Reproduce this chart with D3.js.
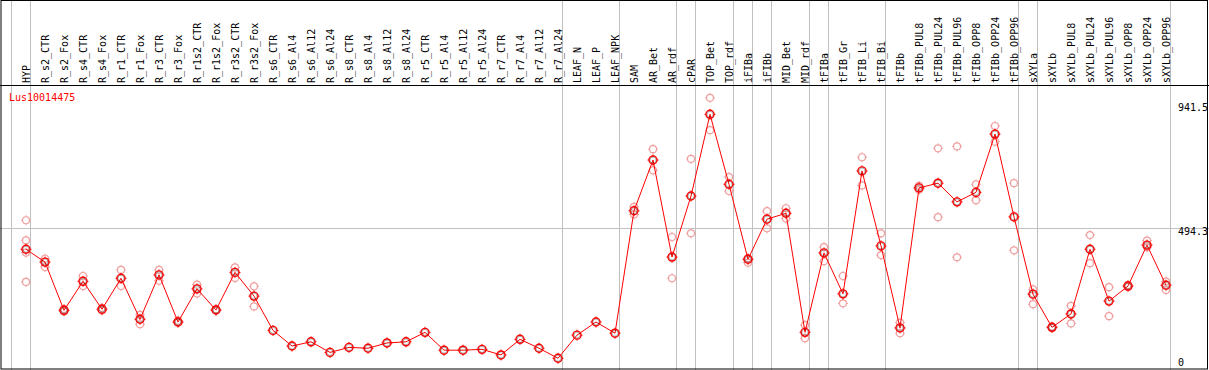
<!DOCTYPE html>
<html>
<head>
<meta charset="utf-8">
<script src="https://cdn.jsdelivr.net/npm/d3@7"></script>
<style>
  body { margin: 0; background: #fff; }
  text { font-family: "DejaVu Sans Mono", monospace; font-size: 10px; }
</style>
</head>
<body>
<div id="chart"></div>
<script>
var w = 1209, h = 370;

var gene = "Lus10014475";

var samples = ["HYP", "R_s2_CTR", "R_s2_Fox", "R_s4_CTR", "R_s4_Fox", "R_r1_CTR", "R_r1_Fox",
  "R_r3_CTR", "R_r3_Fox", "R_r1s2_CTR", "R_r1s2_Fox", "R_r3s2_CTR", "R_r3s2_Fox",
  "R_s6_CTR", "R_s6_Al4", "R_s6_Al12", "R_s6_Al24", "R_s8_CTR", "R_s8_Al4", "R_s8_Al12", "R_s8_Al24",
  "R_r5_CTR", "R_r5_Al4", "R_r5_Al12", "R_r5_Al24", "R_r7_CTR", "R_r7_Al4", "R_r7_Al12", "R_r7_Al24",
  "LEAF_N", "LEAF_P", "LEAF_NPK", "SAM", "AR_Bet", "AR_rdf", "cPAR", "TOP_Bet", "TOP_rdf",
  "iFIBa", "iFIBb", "MID_Bet", "MID_rdf", "tFIBa", "tFIB_Gr", "tFIB_Li", "tFIB_Bi",
  "tFIBb", "tFIBb_PUL8", "tFIBb_PUL24", "tFIBb_PUL96", "tFIBb_OPP8", "tFIBb_OPP24", "tFIBb_OPP96",
  "sXYLa", "sXYLb", "sXYLb_PUL8", "sXYLb_PUL24", "sXYLb_PUL96", "sXYLb_OPP8", "sXYLb_OPP24", "sXYLb_OPP96"];

// mean expression per sample
var means = [418, 372, 199, 303, 203, 314, 167, 326, 157, 276, 200, 335, 250,
  127, 71, 86, 48, 66, 63, 82, 86,
  120, 56, 56, 59, 39, 95, 63, 27,
  110, 157, 117, 556, 738, 390, 609, 902, 651,
  382, 526, 547, 120, 405, 258, 699, 430,
  136, 638, 655, 588, 622, 831, 534,
  257, 138, 186, 418, 232, 286, 433, 289];

// replicates per sample
var reps = [[522, 450, 406, 301], [384, 354], [204, 195], [322, 286], [208, 198], [344, 286], [183, 149],
  [344, 305], [162, 155], [291, 259], [203, 198], [353, 315], [285, 213],
  [], [], [], [], [], [], [], [],
  [], [], [], [], [], [], [], [],
  [], [], [], [570, 543], [777, 701], [462, 314], [742, 475], [961, 845], [677, 627],
  [386, 370], [555, 493], [565, 528], [146, 99], [426, 375], [322, 224], [748, 647], [475, 397],
  [155, 117], [631, 645], [780, 533], [787, 389], [651, 594], [860, 804], [655, 414],
  [274, 221], [140, 136], [215, 152], [469, 368], [282, 178], [290, 283], [449, 425], [302, 272]];

// group boundaries: first sample of each block
var groupStarts = ["HYP", "R_s2_CTR", "LEAF_N", "SAM", "cPAR", "TOP_Bet", "iFIBa", "iFIBb",
  "MID_Bet", "tFIBa", "tFIB_Gr", "tFIBb", "sXYLa", "sXYLb"];

var yTicks = [941.5, 494.3, 0];
var gridTicks = [494.3];

var svg = d3.select('#chart').append('svg')
  .attr('width', w)
  .attr('height', h);

var x = d3.scalePoint()
  .domain(samples)
  .range([26, 26 + 19 * (samples.length - 1)]);

var y = d3.scaleLinear()
  .domain([0, 941.5])
  .range([365.8, 103.3]);

var headerY = 85.5;
var plotRight = x(samples[samples.length - 1]) + 4.5;

// group separators, full height
svg.selectAll('line.sep')
  .data(groupStarts)
  .enter().append('line')
  .attr('class', 'sep')
  .attr('x1', function(d) { return x(d) - 14.5; })
  .attr('x2', function(d) { return x(d) - 14.5; })
  .attr('y1', 0)
  .attr('y2', h)
  .attr('stroke', '#c0c0c0');

svg.append('line')
  .attr('x1', plotRight).attr('x2', plotRight)
  .attr('y1', 0).attr('y2', h)
  .attr('stroke', '#c0c0c0');

// horizontal grid
svg.selectAll('line.grid')
  .data(gridTicks)
  .enter().append('line')
  .attr('class', 'grid')
  .attr('x1', 0)
  .attr('x2', w)
  .attr('y1', function(d) { return Math.round(y(d)) + 0.5; })
  .attr('y2', function(d) { return Math.round(y(d)) + 0.5; })
  .attr('stroke', '#c0c0c0');

// frame
svg.append('rect')
  .attr('x', 1).attr('y', 0.5)
  .attr('width', w - 2.5).attr('height', h - 1.5)
  .attr('fill', 'none')
  .attr('stroke', '#000');

svg.append('line')
  .attr('x1', 0).attr('x2', w)
  .attr('y1', headerY).attr('y2', headerY)
  .attr('stroke', '#000');

// rotated sample names
svg.selectAll('text.lab')
  .data(samples)
  .enter().append('text')
  .attr('class', 'lab')
  .attr('transform', function(d) { return 'translate(' + (x(d) + 4) + ',83) rotate(-90)'; })
  .attr('text-anchor', 'start')
  .attr('fill', '#000')
  .text(function(d) { return d; });

// right axis labels
svg.selectAll('text.ylab')
  .data(yTicks)
  .enter().append('text')
  .attr('class', 'ylab')
  .attr('x', 1178)
  .attr('y', function(d) { return Math.min(y(d) + 7.5, 366); })
  .attr('fill', '#000')
  .text(function(d) { return d; });

svg.append('text')
  .attr('x', 9)
  .attr('y', 101)
  .attr('fill', '#ff0000')
  .text(gene);

function marker(g, cx, cy, r, col, sw) {
  g.append('circle')
    .attr('cx', cx).attr('cy', cy).attr('r', r)
    .attr('fill', 'none')
    .attr('stroke', col)
    .attr('stroke-width', sw);
  [[0, -1], [0, 1], [-1, 0], [1, 0]].forEach(function(v) {
    g.append('line')
      .attr('x1', cx + v[0] * r).attr('y1', cy + v[1] * r)
      .attr('x2', cx + v[0] * (r + 1.5)).attr('y2', cy + v[1] * (r + 1.5))
      .attr('stroke', col)
      .attr('stroke-width', 1);
  });
}

// replicate points
var repG = svg.append('g');
samples.forEach(function(s, i) {
  reps[i].forEach(function(v) {
    marker(repG, x(s), y(v), 3.5, '#f0a0a0', 1.2);
  });
});

// mean line
var line = d3.line()
  .x(function(d, i) { return x(samples[i]); })
  .y(function(d) { return y(d); });

svg.append('path')
  .datum(means)
  .attr('d', line)
  .attr('fill', 'none')
  .attr('stroke', '#ff0000')
  .attr('stroke-width', 1);

var meanG = svg.append('g');
samples.forEach(function(s, i) {
  marker(meanG, x(s), y(means[i]), 4, '#ff0000', 1.4);
  meanG.append('circle')
    .attr('cx', x(s)).attr('cy', y(means[i])).attr('r', 3)
    .attr('fill', 'none')
    .attr('stroke', '#000')
    .attr('stroke-opacity', 0.5)
    .attr('stroke-width', 0.6);
});
</script>
</body>
</html>
